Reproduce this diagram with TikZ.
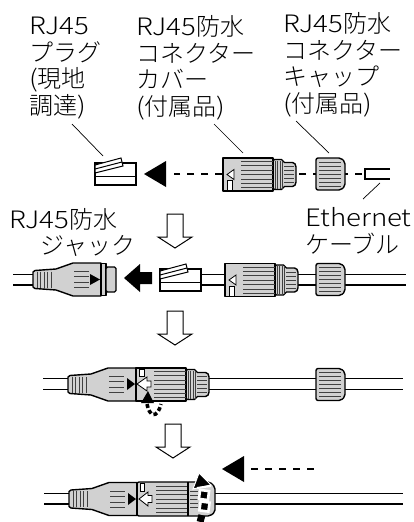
\documentclass[tikz,border=0pt]{standalone}
\usepackage{fontspec}
\setmainfont{Noto Sans CJK JP Light}
\newfontfamily\latinfont[FakeStretch=1.15]{Noto Sans CJK JP Light}
\tikzset{
    lbl/.style={inner sep=0pt,anchor=west,align=left,font=\fontsize{24}{26.5}\selectfont},
    leader/.style={line width=0.7pt},
    body/.style={draw,line width=1.4pt,fill=black!18,line join=round},
    rib/.style={line width=0.7pt,black!75},
    cablewire/.style={line width=1.4pt},
    hollow/.style={draw,line width=1pt,fill=white,line join=miter},
    dash line/.style={line width=2.2pt,dash pattern=on 7pt off 7pt}
}
% one cable: two parallel lines
\newcommand{\wire}[3]{\draw[cablewire] (#1,#3-5.3) -- (#2,#3-5.3) (#1,#3+5.3) -- (#2,#3+5.3);}
\newcommand{\stepdown}[2]{\draw[hollow] (#1-8,#2) -- (#1+8,#2) -- (#1+8,#2+23) -- (#1+17,#2+23) -- (#1,#2+34) -- (#1-17,#2+23) -- (#1-8,#2+23) -- cycle;}
% cap: ribbed nut, x left edge
\newcommand{\capnut}[2]{
    \draw[body,rounded corners=2pt] (#1,#2-16) -- (#1+25,#2-16) -- (#1+29,#2-12) -- (#1+29,#2+12) -- (#1+25,#2+16) -- (#1,#2+16) -- cycle;
    \foreach \r in {-12,-8,-4,0,4,8,12}
    \draw[rib] (#1+3,#2+\r) -- (#1+25,#2+\r);
}
% threaded end of the cover
\newcommand{\coverthread}[2]{
    \draw[body,rounded corners=1.5pt] (#1,#2-15) -- (#1+10,#2-15) -- (#1+10,#2-12) -- (#1+21,#2-12) -- (#1+23,#2-9) -- (#1+23,#2+9) -- (#1+21,#2+12) -- (#1+10,#2+12) -- (#1+10,#2+15) -- (#1,#2+15) -- cycle;
    \foreach \r in {2,4.5,7,9.5}
    \draw[rib] (#1+\r,#2-14) -- (#1+\r,#2+14);
    \foreach \r in {-8,-4,0,4,8}
    \draw[rib] (#1+11,#2+\r) -- (#1+21,#2+\r);
}
% loose cover with its mark and latch window
\newcommand{\coverpart}[2]{
    \coverthread{#1+50}{#2}
    \draw[body] (#1,#2-16.5) rectangle (#1+50,#2+16.5);
    \foreach \r in {-13,-9,-4.5,0,4.5,9,13}
    \draw[rib] (#1+18,#2+\r) -- (#1+50,#2+\r);
    \draw[line width=0.8pt,fill=white] (#1+11,#2-5) -- (#1+4,#2) -- (#1+11,#2+5) -- cycle;
    \draw[line width=0.8pt,fill=white] (#1+4,#2+6) rectangle (#1+9,#2+16);
}
\newcommand{\plugpart}[2]{
    \draw[line width=1.2pt,fill=white] (#1,#2-11) rectangle (#1+41,#2+11);
    \draw[line width=1pt] (#1,#2+2.5) -- (#1+41,#2+2.5);
    \draw[line width=1pt,fill=white] (#1,#2-9) -- (#1+26,#2-16) -- (#1+28,#2-8) -- (#1,#2-1) -- cycle;
    \draw[line width=1pt] (#1,#2-5) -- (#1+27,#2-12);
}
% boot and shell of the jack, #1 is the left end of the boot
\newcommand{\jackboot}[2]{
    \draw[body] (#1,#2-7.5) -- (#1+2,#2-9) -- (#1+23,#2-10.5) -- (#1+40,#2-16.5) -- (#1+68,#2-16.5) -- (#1+68,#2+16.5) -- (#1+40,#2+16.5) -- (#1+23,#2+10.5) -- (#1+2,#2+9) -- (#1,#2+7.5) -- cycle;
    \foreach \r in {4,7.5,11,14.5,18}
    \draw[rib] (#1+\r,#2-8) -- (#1+\r,#2+8);
    \foreach \r in {-8,-3,3,8}
    \draw[rib] (#1+41,#2+\r) -- (#1+56,#2+\r);
}
\begin{document}
\begin{tikzpicture}[x=1pt,y=-1pt]
    \useasboundingbox (0,0) rectangle (414,522);
    % labels
    \node[lbl] (plugtext) at (29,68) {{\latinfont RJ45}\\プラグ\\{\latinfont(}現地\\調達{\latinfont)}};
    \node[lbl] (covertext) at (136,68) {{\latinfont RJ45}防水\\コネクター\\カバー\\{\latinfont(}付属品{\latinfont)}};
    \node[lbl] (captext) at (283,65) {{\latinfont RJ45}防水\\コネクター\\キャップ\\{\latinfont(}付属品{\latinfont)}};
    \node[lbl] (jacktext) at (9,219) {{\latinfont RJ45}防水};
    \node[lbl] (jacktext2) at (40,246) {ジャック};
    \node[lbl] (ethtext) at (305,231) {{\latinfont Ethernet}\\ケーブル};
    % leader lines
    \coordinate (plugend) at (103,156);
    \coordinate (coverend) at (243,153);
    \coordinate (capend) at (329,153);
    \coordinate (cableend) at (380,183);
    \coordinate (ethend) at (363,199);
    \draw[leader] (72,124) -- (plugend);
    \draw[leader] (214,124) -- (coverend);
    \draw[leader] (296,121) -- (capend);
    \draw[leader] (ethend) -- (cableend);
    % step 1, parts apart
    \draw[dash line] (222,174) -- (174,174);
    \draw[dash line] (362,174) -- (296,174);
    \fill (144,174) -- (166,161) -- (166,187) -- cycle;
    \plugpart{95}{174}
    \coverpart{223}{174.5}
    \capnut{316}{174}
    \draw[line width=1.4pt] (390,169) -- (365,169) -- (365,179) -- (390,179);
    \stepdown{175}{214}
    % step 2, plug goes into the jack
    \wire{13}{33}{279.5}
    \wire{200}{406}{279.5}
    \jackboot{33}{279.5}
    \draw[body] (101,263.5) rectangle (106,295.5);
    \draw[body,rounded corners=1.5pt] (106,267) rectangle (116,292);
    \fill (100,279.5) -- (90,274) -- (90,285) -- cycle;
    \fill (124,278) -- (140,264) -- (140,272) -- (152,272) -- (152,284) -- (140,284) -- (140,292) -- cycle;
    \plugpart{160}{280}
    \coverpart{225}{280}
    \capnut{316}{279.5}
    \stepdown{175}{311}
    % step 3, latch is closed, cap still on the cable
    \wire{43}{68}{384}
    \wire{205}{403}{384}
    \jackboot{68}{384.5}
    \coverthread{186}{384.5}
    \draw[body] (136,368) rectangle (186,401);
    \foreach \r in {-13,-9,-4.5,0,4.5,9,13}
    \draw[rib] (154,384.5+\r) -- (186,384.5+\r);
    \draw[line width=0.8pt,fill=white] (139,369) rectangle (144,376);
    \fill (135,384) -- (127,378) -- (127,390) -- cycle;
    \draw[line width=0.8pt,fill=white] (137,384) -- (147,377) -- (147,381) -- (151,381) -- (151,387) -- (147,387) -- (147,391) -- cycle;
    \capnut{316}{384.5}
    \fill (148,391) -- (141,403) -- (154,403) -- cycle;
    \draw[line width=3.6pt,dash pattern=on 4pt off 2.5pt] (147,404) .. controls (149,416) and (157,420) .. (161,404);
    \stepdown{173}{424}
    % step 4, cap tightened on the cover
    \wire{44}{69}{498.5}
    \wire{214}{403}{498.5}
    \jackboot{69}{499}
    \draw[body,rounded corners=2pt] (137,482) -- (210,482) -- (215,487) -- (215,512) -- (210,516) -- (137,516) -- cycle;
    \draw[line width=1.4pt] (137,482) -- (137,516) (188,482) -- (188,516);
    \foreach \r in {-13,-9,-4.5,0,4.5,9,13}
    \draw[rib] (156,499+\r) -- (187,499+\r);
    \foreach \r in {-8,-4,0,4,8}
    \draw[rib] (190,499+\r) -- (198,499+\r);
    \draw[line width=0.8pt,fill=white] (140,483) rectangle (144,491);
    \fill (136,499) -- (128,493) -- (128,505) -- cycle;
    \draw[line width=0.8pt,fill=white] (139,499) -- (148,492) -- (148,495.5) -- (152,495.5) -- (152,502.5) -- (148,502.5) -- (148,506) -- cycle;
    \fill[draw=white,line width=1pt] (199,473) -- (193,489) -- (211,485) -- cycle;
    \draw[white,line width=2pt] (197,488) -- (211,486);
    \foreach \px/\py in {204/495,204.5/506.5}
    \draw[white,fill=black,line width=2.6pt,rotate around={-8:(\px,\py)}] (\px-4.5,\py-4.5) rectangle (\px+4.5,\py+4.5);
    \fill[rotate around={-15:(201,518.5)}] (197.5,515) rectangle (204.5,522);
    \fill (222,469) -- (244,456) -- (244,482) -- cycle;
    \draw[dash line] (251,469) -- (314,469);
\end{tikzpicture}
\end{document}
